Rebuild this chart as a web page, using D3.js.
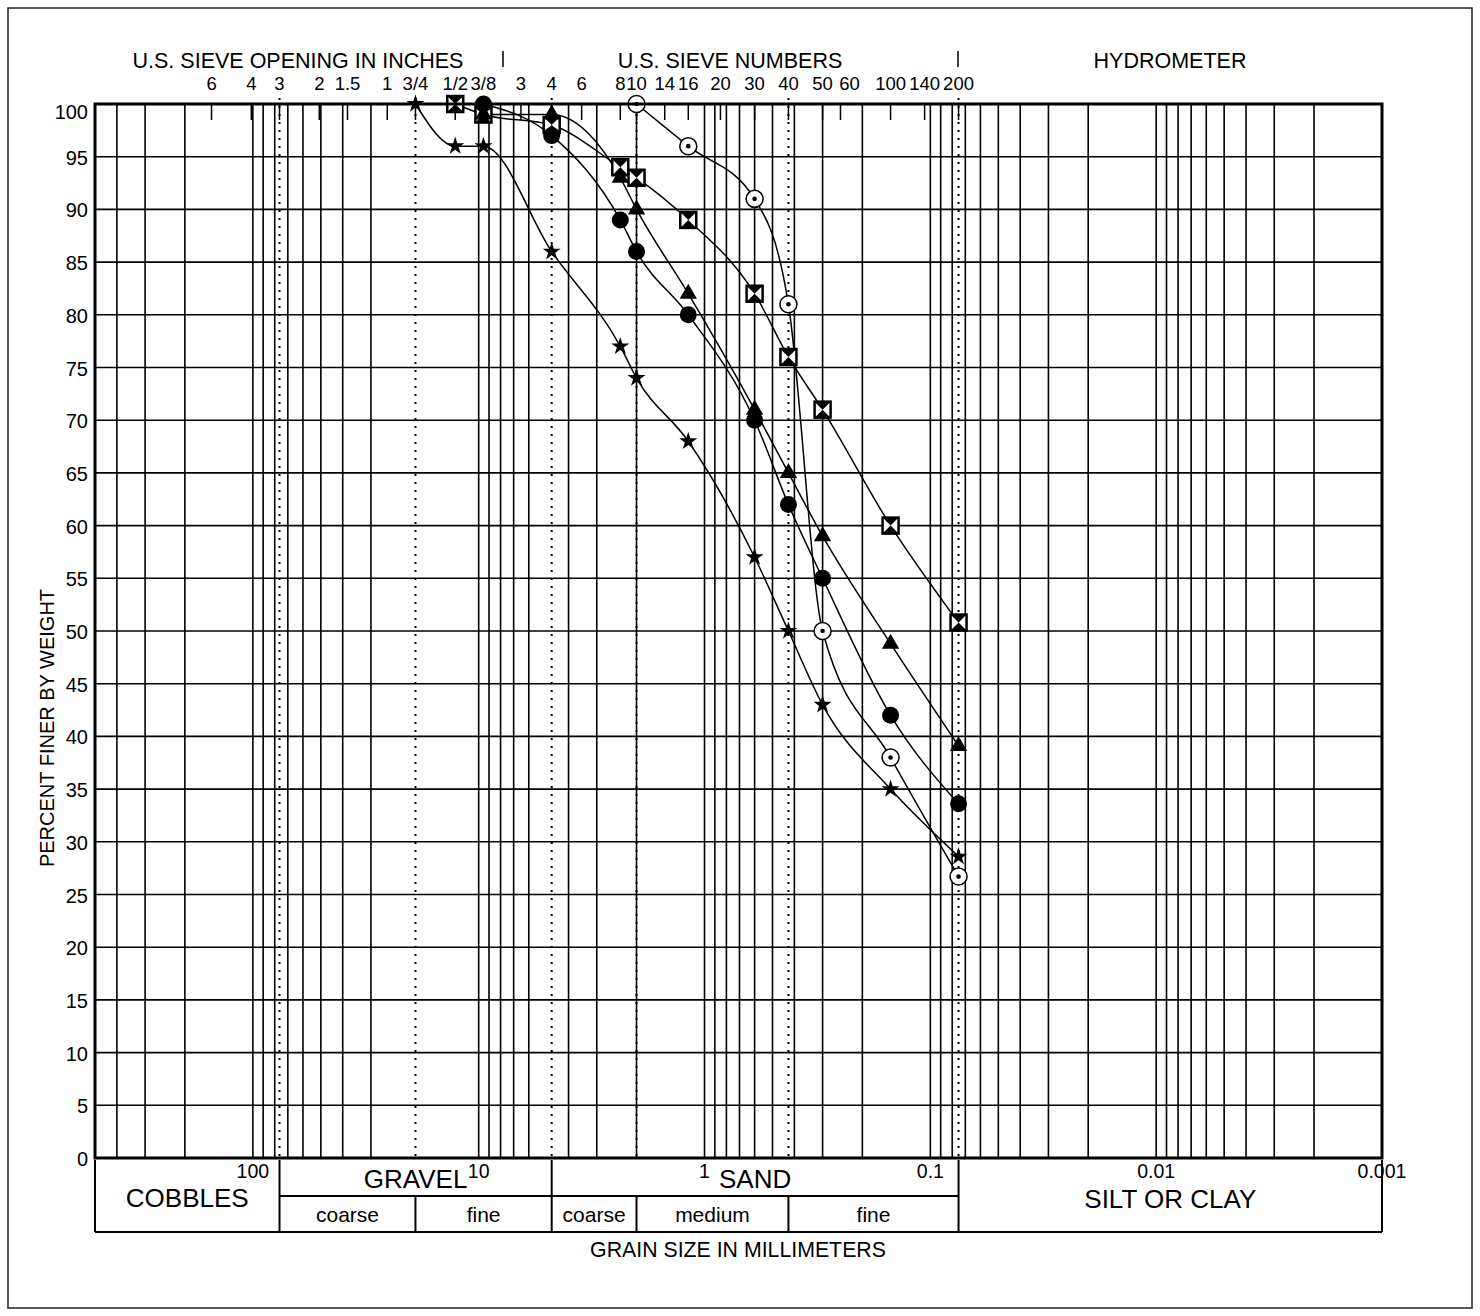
<!DOCTYPE html>
<html>
<head>
<meta charset="utf-8">
<script src="https://cdn.jsdelivr.net/npm/d3@7"></script>
<style>
  body { margin: 0; background: #fff; }
  text { font-family: "Liberation Sans", Arial, sans-serif; fill: #000; }
</style>
</head>
<body>
<svg id="chart" width="1480" height="1316"></svg>
<script>
// Sieve sizes (mm) at which the samples were measured
const sieveSize = [19.05, 12.7, 9.525, 4.75, 2.36, 2.0, 1.18, 0.6, 0.425, 0.3, 0.15, 0.075];

// Percent finer for each sample (null = not measured)
const starPct = [100, 96, 96, 86, 77, 74, 68, 57, 50, 43, 35, 28.6];
const bowtiePct = [null, 100, 99, 98, 94, 93, 89, 82, 76, 71, 60, 50.8];
const trianglePct = [null, null, 99, 99, 93, 90, 82, 71, 65, 59, 48.8, 39.1];
const circlePct = [null, null, 100, 97, 89, 86, 80, 70, 62, 55, 42, 33.6];
const dotCirclePct = [null, null, null, null, null, 100, 96, 91, 81, 50, 38, 26.7];

// Top axis: sieve openings in inches and sieve numbers
const inchLabels = ["6", "4", "3", "2", "1.5", "1", "3/4", "1/2", "3/8"];
const inchSizes = [152.4, 101.6, 76.2, 50.8, 38.1, 25.4, 19.05, 12.7, 9.525];
const sieveLabels = ["3", "4", "6", "8", "10", "14", "16", "20", "30", "40", "50", "60", "100", "140", "200"];
const sieveSizes = [6.5, 4.75, 3.5, 2.36, 2.0, 1.5, 1.18, 0.85, 0.6, 0.425, 0.3, 0.25, 0.15, 0.106, 0.075];

// Bottom axis labels (mm)
const mmTicks = [100, 10, 1, 0.1, 0.01, 0.001];
const mmLabels = ["100", "10", "1", "0.1", "0.01", "0.001"];

// Soil classification boundaries (mm), drawn dotted
const boundaries = [76.2, 19.05, 4.75, 2.0, 0.425, 0.075];
// gridlines left out of the chart
const gridSkip = [20, 5];

const svg = d3.select("#chart");
const plotL = 95, plotR = 1382, plotT = 104, plotB = 1158;

const x = d3.scaleLog().domain([500, 0.001]).range([plotL, plotR]);
const y = d3.scaleLinear().domain([0, 100]).range([plotB, plotT]);

// outer frame
svg.append("rect")
  .attr("x", 8).attr("y", 8).attr("width", 1464).attr("height", 1300)
  .attr("fill", "none").attr("stroke", "#222").attr("stroke-width", 1.5);

// vertical gridlines
const gridX = x.ticks().filter(v => v < 500 && v > 0.001 && !gridSkip.includes(v));
svg.append("g").selectAll("line").data(gridX).join("line")
  .attr("x1", d => x(d)).attr("x2", d => x(d))
  .attr("y1", plotT).attr("y2", plotB)
  .attr("stroke", "#000").attr("stroke-width", 1.6);

// horizontal gridlines
const yTicks = d3.range(0, 101, 5);
svg.append("g").selectAll("line").data(yTicks).join("line")
  .attr("x1", plotL).attr("x2", plotR)
  .attr("y1", d => y(d)).attr("y2", d => y(d))
  .attr("stroke", "#000").attr("stroke-width", 1.6);

// dotted boundary lines
svg.append("g").selectAll("line").data(boundaries).join("line")
  .attr("x1", d => x(d)).attr("x2", d => x(d))
  .attr("y1", plotT - 6).attr("y2", plotB)
  .attr("stroke", "#000").attr("stroke-width", 2)
  .attr("stroke-dasharray", "2,6");

// top ticks
const topTicks = inchSizes.concat(sieveSizes);
svg.append("g").selectAll("line").data(topTicks).join("line")
  .attr("x1", d => x(d)).attr("x2", d => x(d))
  .attr("y1", plotT).attr("y2", plotT + 16)
  .attr("stroke", "#000").attr("stroke-width", 1.5);

const topLabels = inchLabels.concat(sieveLabels);
svg.append("g").selectAll("text").data(topTicks).join("text")
  .attr("x", (d, i) => x(d) + (topLabels[i] === "60" ? 9 : 0))
  .attr("y", 90)
  .attr("text-anchor", "middle").attr("font-size", 18.5)
  .text((d, i) => topLabels[i]);

// top titles and separators
[["U.S. SIEVE OPENING IN INCHES", 298], ["U.S. SIEVE NUMBERS", 730], ["HYDROMETER", 1170]]
  .forEach(([t, cx]) => {
    svg.append("text").attr("x", cx).attr("y", 68)
      .attr("text-anchor", "middle").attr("font-size", 21.5).text(t);
  });
[503, 958].forEach(sx => {
  svg.append("line").attr("x1", sx).attr("x2", sx).attr("y1", 51).attr("y2", 67)
    .attr("stroke", "#000").attr("stroke-width", 1.5);
});

// y labels
svg.append("g").selectAll("text").data(yTicks).join("text")
  .attr("x", 88)
  .attr("y", d => y(d) + (d === 100 ? 15 : 8))
  .attr("text-anchor", "end").attr("font-size", 20)
  .text(d => d);

svg.append("text")
  .attr("transform", "translate(54,728) rotate(-90)")
  .attr("text-anchor", "middle").attr("font-size", 20)
  .text("PERCENT FINER BY WEIGHT");

// data lines
const series = [
  { name: "bowtie", pct: bowtiePct },
  { name: "triangle", pct: trianglePct },
  { name: "circle", pct: circlePct },
  { name: "star", pct: starPct },
  { name: "dotcircle", pct: dotCirclePct },
];

const line = d3.line()
  .defined(d => d.p != null)
  .x(d => x(d.size))
  .y(d => y(d.p))
  .curve(d3.curveMonotoneX);

series.forEach(s => {
  s.points = sieveSize.map((size, i) => ({ size, p: s.pct[i] }));
  svg.append("path")
    .datum(s.points)
    .attr("d", line)
    .attr("fill", "none")
    .attr("stroke", "#000")
    .attr("stroke-width", 1.5);
});

// markers
function drawMarker(g, name) {
  if (name === "circle") {
    g.append("circle").attr("r", 8.5).attr("fill", "#000");
  } else if (name === "triangle") {
    g.append("path").attr("d", d3.symbol(d3.symbolTriangle, 130)()).attr("fill", "#000");
  } else if (name === "star") {
    g.append("path").attr("d", d3.symbol(d3.symbolStar, 100)()).attr("fill", "#000");
  } else if (name === "bowtie") {
    g.append("rect").attr("x", -8).attr("y", -8).attr("width", 16).attr("height", 16)
      .attr("fill", "#fff").attr("stroke", "#000").attr("stroke-width", 2.5);
    g.append("path").attr("d", "M-8,-8L8,-8L0,0ZM-8,8L8,8L0,0Z").attr("fill", "#000");
  } else if (name === "dotcircle") {
    g.append("circle").attr("r", 8.5).attr("fill", "#fff").attr("stroke", "#000").attr("stroke-width", 1.5);
    g.append("circle").attr("r", 2.3).attr("fill", "#000");
  }
}

series.forEach(s => {
  s.points.filter(d => d.p != null).forEach(d => {
    const g = svg.append("g").attr("transform", `translate(${x(d.size)},${y(d.p)})`);
    drawMarker(g, s.name);
  });
});

// plot border
svg.append("rect")
  .attr("x", plotL).attr("y", plotT).attr("width", plotR - plotL).attr("height", plotB - plotT)
  .attr("fill", "none").attr("stroke", "#000").attr("stroke-width", 3);

// classification table below the plot
const tTop = plotB + 2, tMid = 1196, tBot = 1232;
const tbl = svg.append("g").attr("stroke", "#000").attr("stroke-width", 2);
tbl.append("line").attr("x1", plotL).attr("x2", plotR).attr("y1", tBot).attr("y2", tBot);
tbl.append("line").attr("x1", x(76.2)).attr("x2", x(0.075)).attr("y1", tMid).attr("y2", tMid);
[500, 76.2, 4.75, 0.075, 0.001].forEach(v => {
  tbl.append("line").attr("x1", x(v)).attr("x2", x(v)).attr("y1", tTop).attr("y2", tBot);
});
[19.05, 2.0, 0.425].forEach(v => {
  tbl.append("line").attr("x1", x(v)).attr("x2", x(v)).attr("y1", tMid).attr("y2", tBot);
});

function mid(a, b) { return (x(a) + x(b)) / 2; }

svg.append("text").attr("x", mid(500, 76.2)).attr("y", 1207)
  .attr("text-anchor", "middle").attr("font-size", 26).text("COBBLES");
svg.append("text").attr("x", mid(76.2, 4.75)).attr("y", 1188)
  .attr("text-anchor", "middle").attr("font-size", 26).text("GRAVEL");
svg.append("text").attr("x", mid(4.75, 0.075)).attr("y", 1188)
  .attr("text-anchor", "middle").attr("font-size", 26).text("SAND");
svg.append("text").attr("x", mid(0.075, 0.001)).attr("y", 1208)
  .attr("text-anchor", "middle").attr("font-size", 26).text("SILT OR CLAY");

[["coarse", 76.2, 19.05], ["fine", 19.05, 4.75], ["coarse", 4.75, 2.0], ["medium", 2.0, 0.425], ["fine", 0.425, 0.075]]
  .forEach(([t, a, b]) => {
    svg.append("text").attr("x", mid(a, b)).attr("y", 1222)
      .attr("text-anchor", "middle").attr("font-size", 21).text(t);
  });

svg.append("g").selectAll("text").data(mmTicks).join("text")
  .attr("x", d => x(d)).attr("y", 1178)
  .attr("text-anchor", "middle").attr("font-size", 19.5)
  .text((d, i) => mmLabels[i]);

svg.append("text").attr("x", 738).attr("y", 1257)
  .attr("text-anchor", "middle").attr("font-size", 21.3).text("GRAIN SIZE IN MILLIMETERS");
</script>
</body>
</html>
